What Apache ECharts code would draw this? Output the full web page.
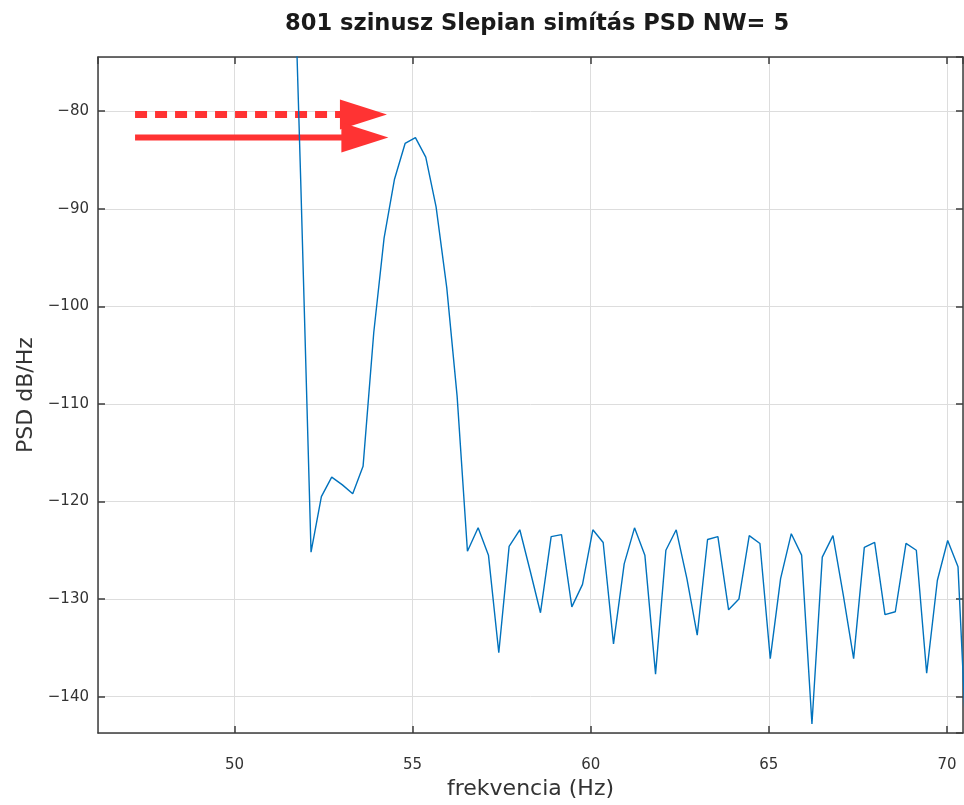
<!DOCTYPE html>
<html>
<head>
<meta charset="utf-8">
<title>801 szinusz Slepian simítás PSD</title>
<script src="https://cdn.jsdelivr.net/npm/echarts@6.0.0/dist/echarts.min.js"></script>
<style>
  html, body { margin: 0; padding: 0; background: #fff; }
  #psd-chart { width: 964px; height: 805px; }
</style>
</head>
<body>
<div id="psd-chart"></div>
<script>
  // frekvencia (Hz) és PSD (dB/Hz) értékek
  var freqHz = [
    51.56, 51.86, 52.15, 52.44, 52.73, 53.03, 53.32, 53.61, 53.91, 54.20,
    54.49, 54.79, 55.08, 55.37, 55.66, 55.96, 56.25, 56.54, 56.84, 57.13,
    57.42, 57.71, 58.01, 58.30, 58.59, 58.89, 59.18, 59.47, 59.77, 60.06,
    60.35, 60.64, 60.94, 61.23, 61.52, 61.82, 62.11, 62.40, 62.70, 62.99,
    63.28, 63.57, 63.87, 64.16, 64.45, 64.75, 65.04, 65.33, 65.63, 65.92,
    66.21, 66.50, 66.80, 67.09, 67.38, 67.68, 67.97, 68.26, 68.55, 68.85,
    69.14, 69.43, 69.73, 70.02, 70.31, 70.61
  ];
  var psdDb = [
    -50.0, -87.1, -125.2, -119.5, -117.5, -118.3, -119.2, -116.4, -102.7, -93.0,
    -87.0, -83.3, -82.7, -84.7, -89.8, -98.1, -109.2, -125.1, -122.7, -125.5,
    -135.5, -124.6, -122.9, -127.1, -131.4, -123.6, -123.4, -130.8, -128.5, -122.9,
    -124.2, -134.6, -126.4, -122.7, -125.5, -137.7, -125.0, -122.9, -127.9, -133.7,
    -123.9, -123.6, -131.1, -130.0, -123.5, -124.3, -136.1, -127.9, -123.3, -125.5,
    -142.8, -125.7, -123.5, -129.6, -136.1, -124.7, -124.2, -131.6, -131.3, -124.3,
    -125.0, -137.6, -128.1, -124.0, -126.7, -150.0
  ];
  // nyilak: kezdet, csúcs (Hz), szint (dB/Hz), szaggatott-e
  var arrowFrom = [47.21, 47.21];
  var arrowTo = [54.28, 54.32];
  var arrowLevel = [-80.34, -82.68];
  var arrowDashed = [1, 0];

  var xMin = 46.17, xMax = 70.45;
  var yMin = -143.74, yMax = -74.44;

  var fontFam = 'DejaVu Sans';
  var axisColor = '#3c3c3c';

  var chartDom = document.getElementById('psd-chart');
  var myChart = echarts.init(chartDom, null, { renderer: 'canvas' });
  var option;

  var psdData = freqHz.map(function (f, i) { return [f, psdDb[i]]; });
  var arrowData = arrowFrom.map(function (f, i) {
    return [f, arrowTo[i], arrowLevel[i], arrowDashed[i]];
  });

  function minus(v) {
    return String(v).replace('-', '\u2212');
  }

  option = {
    animation: false,
    title: {
      text: '801 szinusz Slepian simítás PSD NW= 5',
      left: 280,
      top: 8,
      textStyle: { fontFamily: fontFam, fontSize: 22.6, fontWeight: 'bold', color: '#1a1a1a' }
    },
    grid: { left: 98, top: 57, right: 1, bottom: 59, containLabel: false },
    xAxis: [
      {
        type: 'value',
        min: xMin,
        max: xMax,
        splitNumber: 5,
        name: 'frekvencia (Hz)',
        nameLocation: 'middle',
        nameGap: 41,
        nameTextStyle: { fontFamily: fontFam, fontSize: 22, color: '#333' },
        axisLine: { show: true, lineStyle: { color: axisColor, width: 1.5 } },
        axisTick: { show: true, inside: true, length: 7, lineStyle: { color: axisColor, width: 1.5 } },
        axisLabel: {
          showMinLabel: false, showMaxLabel: false, margin: 25,
          fontFamily: fontFam, fontSize: 15, color: '#333', formatter: minus
        },
        splitLine: { show: true, lineStyle: { color: '#dddddd', width: 1 } }
      },
      {
        type: 'value',
        position: 'top',
        min: xMin,
        max: xMax,
        splitNumber: 5,
        axisLine: { show: true, onZero: false, lineStyle: { color: axisColor, width: 1.5 } },
        axisTick: { show: true, inside: true, length: 7, lineStyle: { color: axisColor, width: 1.5 } },
        axisLabel: { show: false },
        splitLine: { show: false }
      }
    ],
    yAxis: [
      {
        type: 'value',
        min: yMin,
        max: yMax,
        splitNumber: 7,
        name: 'PSD dB/Hz',
        nameLocation: 'middle',
        nameGap: 61,
        nameTextStyle: { fontFamily: fontFam, fontSize: 22, color: '#333' },
        axisLine: { show: true, onZero: false, lineStyle: { color: axisColor, width: 1.5 } },
        axisTick: { show: true, inside: true, length: 7, lineStyle: { color: axisColor, width: 1.5 } },
        axisLabel: {
          showMinLabel: false, showMaxLabel: false, margin: 9,
          fontFamily: fontFam, fontSize: 15, color: '#333', formatter: minus
        },
        splitLine: { show: true, lineStyle: { color: '#dddddd', width: 1 } }
      },
      {
        type: 'value',
        position: 'right',
        min: yMin,
        max: yMax,
        splitNumber: 7,
        axisLine: { show: true, onZero: false, lineStyle: { color: axisColor, width: 1.5 } },
        axisTick: { show: true, inside: true, length: 7, lineStyle: { color: axisColor, width: 1.5 } },
        axisLabel: { show: false },
        splitLine: { show: false }
      }
    ],
    series: [
      {
        name: 'arrows',
        type: 'custom',
        z: 2,
        xAxisIndex: 0,
        yAxisIndex: 0,
        encode: { x: [0, 1], y: 2 },
        data: arrowData,
        renderItem: function (params, api) {
          var p1 = api.coord([api.value(0), api.value(2)]);
          var p2 = api.coord([api.value(1), api.value(2)]);
          var dashed = api.value(3) === 1;
          var headLen = 47, headHalf = 15;
          return {
            type: 'group',
            children: [
              {
                type: 'line',
                shape: { x1: p1[0], y1: p1[1], x2: p2[0] - headLen + 2, y2: p2[1] },
                style: {
                  stroke: '#ff3333',
                  lineWidth: dashed ? 7 : 6,
                  lineDash: dashed ? [12, 8] : null
                }
              },
              {
                type: 'polygon',
                shape: {
                  points: [
                    [p2[0] - headLen, p2[1] - headHalf],
                    [p2[0], p2[1]],
                    [p2[0] - headLen, p2[1] + headHalf]
                  ]
                },
                style: { fill: '#ff3333' }
              }
            ]
          };
        }
      },
      {
        name: 'PSD',
        type: 'line',
        z: 3,
        xAxisIndex: 0,
        yAxisIndex: 0,
        data: psdData,
        showSymbol: false,
        symbol: 'none',
        clip: true,
        lineStyle: { color: '#0072bd', width: 1.4 }
      }
    ]
  };

  option && myChart.setOption(option);
</script>
</body>
</html>
